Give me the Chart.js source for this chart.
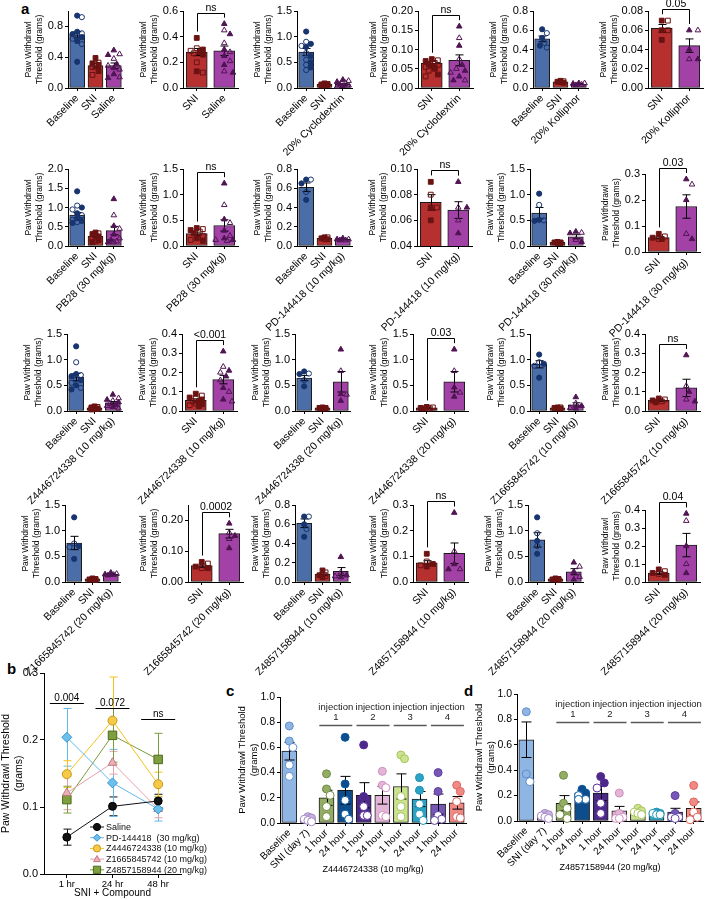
<!DOCTYPE html>
<html>
<head>
<meta charset="utf-8">
<script src="https://cdn.jsdelivr.net/npm/chart.js@4.4.1/dist/chart.umd.min.js"></script>
<style>
  body { margin: 0; background: #fff; }
  #fig { position: relative; width: 708px; height: 900px; overflow: hidden; background: #fff;
         font-family: 'Liberation Sans', Arial, sans-serif; }
  #fig canvas { position: absolute; }
  .tag { position: absolute; font-weight: bold; font-size: 15px; color: #000; line-height: 15px; }
</style>
</head>
<body>
<div id="fig">
  <div class="tag" style="left:21px;top:1px">a</div>
  <div class="tag" style="left:7px;top:661px">b</div>
  <div class="tag" style="left:226px;top:683px">c</div>
  <div class="tag" style="left:464px;top:683px">d</div>
</div>
<script>
// ---- panel a: 24 small bar charts (row by row) ----
const panelLabels = [
  ['Baseline', 'SNI', 'Saline'],
  ['SNI', 'Saline'],
  ['Baseline', 'SNI', '20% Cyclodextrin'],
  ['SNI', '20% Cyclodextrin'],
  ['Baseline', 'SNI', '20% Kolliphor'],
  ['SNI', '20% Kolliphor'],
  ['Baseline', 'SNI', 'PB28 (30 mg/kg)'],
  ['SNI', 'PB28 (30 mg/kg)'],
  ['Baseline', 'SNI', 'PD-144418 (10 mg/kg)'],
  ['SNI', 'PD-144418 (10 mg/kg)'],
  ['Baseline', 'SNI', 'PD-144418 (30 mg/kg)'],
  ['SNI', 'PD-144418 (30 mg/kg)'],
  ['Baseline', 'SNI', 'Z4446724338 (10 mg/kg)'],
  ['SNI', 'Z4446724338 (10 mg/kg)'],
  ['Baseline', 'SNI', 'Z4446724338 (20 mg/kg)'],
  ['SNI', 'Z4446724338 (20 mg/kg)'],
  ['Baseline', 'SNI', 'Z1665845742 (10 mg/kg)'],
  ['SNI', 'Z1665845742 (10 mg/kg)'],
  ['Baseline', 'SNI', 'Z1665845742 (20 mg/kg)'],
  ['SNI', 'Z1665845742 (20 mg/kg)'],
  ['Baseline', 'SNI', 'Z4857158944 (10 mg/kg)'],
  ['SNI', 'Z4857158944 (10 mg/kg)'],
  ['Baseline', 'SNI', 'Z4857158944 (20 mg/kg)'],
  ['SNI', 'Z4857158944 (20 mg/kg)']
];

const panelMeans = [
  [0.69, 0.29, 0.29], [0.28, 0.29], [0.70, 0.07, 0.07], [0.064, 0.072], [0.51, 0.065, 0.042], [0.062, 0.044],
  [0.80, 0.25, 0.40], [0.24, 0.40], [0.61, 0.08, 0.07], [0.074, 0.068], [0.64, 0.07, 0.18], [0.055, 0.175],
  [0.66, 0.06, 0.16], [0.055, 0.163], [0.64, 0.06, 0.57], [0.06, 0.57], [0.91, 0.06, 0.12], [0.055, 0.12],
  [0.76, 0.06, 0.15], [0.053, 0.157], [0.61, 0.08, 0.11], [0.075, 0.112], [0.82, 0.06, 0.20], [0.05, 0.205]
];

const panelSems = [
  [0.04, 0.03, 0.035], [0.028, 0.037], [0.07, 0.008, 0.015], [0.005, 0.014], [0.03, 0.006, 0.005], [0.004, 0.007],
  [0.07, 0.03, 0.11], [0.03, 0.11], [0.045, 0.008, 0.005], [0.006, 0.0065], [0.11, 0.01, 0.04], [0.004, 0.045],
  [0.07, 0.01, 0.025], [0.008, 0.022], [0.05, 0.01, 0.2], [0.01, 0.2], [0.07, 0.01, 0.04], [0.005, 0.045],
  [0.13, 0.01, 0.015], [0.005, 0.014], [0.045, 0.015, 0.04], [0.008, 0.04], [0.14, 0.01, 0.06], [0.007, 0.065]
];

const panelPoints = [
  [[0.94, 0.92, 0.73, 0.71, 0.70, 0.69, 0.66, 0.64, 0.61, 0.57, 0.34], [0.39, 0.33, 0.32, 0.31, 0.30, 0.27, 0.22, 0.17], [0.49, 0.44, 0.43, 0.38, 0.31, 0.29, 0.26, 0.24, 0.18, 0.14, 0.13]],
  [[0.39, 0.31, 0.30, 0.29, 0.28, 0.27, 0.26, 0.20, 0.13, 0.12], [0.50, 0.45, 0.42, 0.35, 0.30, 0.28, 0.25, 0.21, 0.18, 0.13, 0.12]],
  [[1.10, 0.90, 0.86, 0.82, 0.80, 0.68, 0.62, 0.55, 0.50, 0.45, 0.40, 0.35], [0.09, 0.08, 0.07, 0.07, 0.06, 0.06, 0.05, 0.05], [0.16, 0.14, 0.12, 0.10, 0.07, 0.05, 0.04, 0.03]],
  [[0.075, 0.072, 0.07, 0.065, 0.062, 0.06, 0.058, 0.055, 0.05, 0.045, 0.035, 0.03], [0.16, 0.13, 0.11, 0.075, 0.06, 0.05, 0.045, 0.04, 0.03, 0.02, 0.02]],
  [[0.61, 0.57, 0.52, 0.47, 0.44, 0.42], [0.075, 0.07, 0.065, 0.06, 0.055], [0.05, 0.05, 0.045, 0.035, 0.03]],
  [[0.07, 0.07, 0.06, 0.06, 0.05], [0.06, 0.06, 0.04, 0.03, 0.03]],
  [[1.42, 1.05, 1.00, 0.95, 0.85, 0.80, 0.72, 0.68, 0.65, 0.62, 0.60], [0.35, 0.33, 0.31, 0.28, 0.25, 0.20, 0.15, 0.12, 0.10], [1.22, 0.80, 0.52, 0.45, 0.30, 0.20, 0.15, 0.12, 0.10, 0.10]],
  [[0.35, 0.33, 0.31, 0.28, 0.25, 0.20, 0.15, 0.12, 0.10], [1.22, 0.80, 0.52, 0.45, 0.30, 0.20, 0.15, 0.12, 0.12, 0.10]],
  [[0.69, 0.69, 0.65, 0.56, 0.48], [0.09, 0.09, 0.08, 0.07, 0.07], [0.08, 0.07, 0.07, 0.06, 0.06]],
  [[0.09, 0.08, 0.07, 0.07, 0.06], [0.09, 0.07, 0.07, 0.06, 0.05]],
  [[1.02, 0.80, 0.51, 0.50, 0.49], [0.08, 0.07, 0.07, 0.06, 0.06], [0.28, 0.26, 0.25, 0.12, 0.08]],
  [[0.07, 0.06, 0.055, 0.05, 0.05], [0.28, 0.26, 0.20, 0.07, 0.05]],
  [[1.26, 0.95, 0.72, 0.70, 0.68, 0.62, 0.60, 0.55, 0.50, 0.45, 0.42], [0.09, 0.08, 0.07, 0.06, 0.05, 0.05, 0.04, 0.04, 0.03], [0.32, 0.25, 0.22, 0.20, 0.17, 0.14, 0.12, 0.10, 0.08, 0.05]],
  [[0.09, 0.08, 0.07, 0.065, 0.06, 0.05, 0.05, 0.04, 0.035, 0.03, 0.025], [0.31, 0.23, 0.21, 0.20, 0.18, 0.16, 0.12, 0.10, 0.06, 0.05]],
  [[0.77, 0.73, 0.72, 0.60, 0.48], [0.07, 0.06, 0.06, 0.05, 0.05], [1.20, 0.78, 0.33, 0.32, 0.20]],
  [[0.08, 0.07, 0.06, 0.05, 0.05], [1.20, 0.78, 0.46, 0.36, 0.28]],
  [[1.10, 0.95, 0.92, 0.88, 0.65], [0.07, 0.07, 0.06, 0.05, 0.05], [0.27, 0.15, 0.10, 0.06, 0.05]],
  [[0.065, 0.06, 0.055, 0.05, 0.045], [0.29, 0.13, 0.10, 0.06, 0.05]],
  [[1.26, 0.75, 0.70, 0.68, 0.45], [0.07, 0.06, 0.05, 0.05, 0.04], [0.18, 0.16, 0.15, 0.14, 0.13]],
  [[0.065, 0.06, 0.05, 0.045, 0.045], [0.19, 0.16, 0.15, 0.14, 0.11]],
  [[0.68, 0.68, 0.60, 0.55, 0.47], [0.12, 0.10, 0.07, 0.06, 0.05], [0.26, 0.10, 0.07, 0.06, 0.05]],
  [[0.11, 0.08, 0.07, 0.065, 0.06], [0.27, 0.12, 0.07, 0.05, 0.05]],
  [[1.26, 0.95, 0.80, 0.70, 0.55], [0.07, 0.06, 0.05, 0.05, 0.04], [0.38, 0.30, 0.20, 0.10, 0.05]],
  [[0.07, 0.06, 0.05, 0.045, 0.04], [0.38, 0.34, 0.20, 0.10, 0.05]]
];

// y axis ticks per panel
const panelYMin = [0, 0, 0, 0, 0, 0, 0, 0, 0, 0.04, 0, 0, 0, 0, 0, 0, 0, 0, 0, 0, 0, 0, 0, 0];
const panelYMax = [1.0, 0.6, 1.5, 0.20, 0.8, 0.08, 2.0, 1.5, 0.8, 0.10, 1.5, 0.3, 1.5, 0.4, 1.5, 1.5, 1.5, 0.4, 1.5, 0.25, 0.8, 0.3, 1.5, 0.4];
const panelYStep = [0.2, 0.2, 0.5, 0.05, 0.2, 0.02, 0.5, 0.5, 0.2, 0.01, 0.5, 0.1, 0.5, 0.1, 0.5, 0.5, 0.5, 0.1, 0.5, 0.05, 0.2, 0.1, 0.5, 0.1];
const panelSig = [null, 'ns', null, 'ns', null, '0.05', null, 'ns', null, 'ns', null, '0.03',
                  null, '<0.001', null, '0.03', null, 'ns', null, '0.0002', null, 'ns', null, '0.04'];

// ---- panel b ----
const bTimes = ['1 hr', '24 hr', '48 hr'];
const bNames = ['Saline', 'PD-144418  (30 mg/kg)', 'Z4446724338 (10 mg/kg)', 'Z1665845742 (10 mg/kg)', 'Z4857158944 (20 mg/kg)'];
const bSaline = [0.055, 0.101, 0.109];
const bPD144418 = [0.204, 0.136, 0.097];
const bZ4446724338 = [0.149, 0.229, 0.134];
const bZ1665845742 = [0.121, 0.166, 0.097];
const bZ4857158944 = [0.111, 0.207, 0.171];
const bSalineSem = [0.012, 0.014, 0.010];
const bPD144418Sem = [0.043, 0.050, 0.018];
const bZ4446724338Sem = [0.020, 0.065, 0.018];
const bZ1665845742Sem = [0.025, 0.017, 0.013];
const bZ4857158944Sem = [0.020, 0.040, 0.039];
const bYTicks = [0, 0.1, 0.2, 0.3];
const bSig = ['0.004', '0.072', 'ns'];
const bSigLevels = [0.255, 0.248, 0.231];

// ---- panels c and d ----
const repLabels = ['Baseline', 'SNI (day 7)', '1 hour', '24 hour', '1 hour', '24 hour', '1 hour', '24 hour', '1 hour', '24 hour'];
const injectionWord = 'injection';
const injectionNumbers = ['1', '2', '3', '4'];

const cTitle = 'Z4446724338 (10 mg/kg)';
const cMeans = [0.57, 0.03, 0.20, 0.26, 0.22, 0.22, 0.29, 0.19, 0.15, 0.16];
const cSems = [0.07, 0.008, 0.06, 0.11, 0.10, 0.07, 0.10, 0.06, 0.08, 0.05];
const cPoints = [[0.77, 0.65, 0.60, 0.46, 0.37], [0.05, 0.04, 0.03, 0.02, 0.01], [0.39, 0.27, 0.22, 0.13, 0.05],
  [0.68, 0.31, 0.18, 0.07, 0.03], [0.62, 0.21, 0.13, 0.06, 0.06], [0.41, 0.30, 0.28, 0.06, 0.05],
  [0.54, 0.51, 0.21, 0.13, 0.05], [0.36, 0.26, 0.15, 0.07, 0.02], [0.40, 0.25, 0.06, 0.03, 0.02],
  [0.30, 0.25, 0.17, 0.05, 0.04]];

const dTitle = 'Z4857158944 (20 mg/kg)';
const dMeans = [0.64, 0.04, 0.14, 0.22, 0.22, 0.08, 0.07, 0.07, 0.07, 0.10];
const dSems = [0.14, 0.006, 0.06, 0.02, 0.06, 0.035, 0.01, 0.005, 0.03, 0.05];
const dPoints = [[0.86, 0.37, 0.31], [0.06, 0.05, 0.04, 0.03, 0.02], [0.36, 0.14, 0.10, 0.05, 0.02],
  [0.25, 0.22, 0.20, 0.17, 0.17], [0.35, 0.30, 0.26, 0.14, 0.06], [0.22, 0.06, 0.03, 0.02, 0.02],
  [0.10, 0.08, 0.07, 0.06, 0.05], [0.07, 0.06, 0.06, 0.05, 0.05], [0.20, 0.06, 0.03, 0.03, 0.02],
  [0.28, 0.15, 0.07, 0.03, 0.01]];

// ---- layout (pixels) ----
const panelAxisX = [68, 183, 297, 418, 533, 648, 68, 183, 297, 417, 530, 645,
                    67, 182, 295, 413, 530, 645, 65, 188, 295, 413, 528, 645];
const rowTops = [11, 169, 334, 505];
const topShift = { 11: 5, 23: 5 };
const plotHeights = { 11: 78, 23: 72 };

const FONT = "'Liberation Sans', Arial, Helvetica, sans-serif";
Chart.defaults.font.family = FONT;
Chart.defaults.color = '#000';

const fig = document.getElementById('fig');

function addCanvas(left, top, w, h) {
  const c = document.createElement('canvas');
  c.width = w;
  c.height = h;
  c.style.left = left + 'px';
  c.style.top = top + 'px';
  c.style.width = w + 'px';
  c.style.height = h + 'px';
  fig.appendChild(c);
  return c;
}

function decimalsOf(step) {
  return (String(step).split('.')[1] || '').length;
}

// sideways spread of points inside the bar (pixel offsets), overlapping when crowded
function swarm(values, pxPerUnit, r, maxHalf) {
  const cands = [0];
  for (let s = r * 0.9; s <= maxHalf + 0.01; s += r * 0.9) cands.push(s, -s);
  const placed = [];
  const offs = new Array(values.length).fill(0);
  const order = values.map((v, i) => i).sort((a, b) => values[b] - values[a]);
  order.forEach(i => {
    const y = values[i] * pxPerUnit;
    let best = 0, bestD = -1;
    for (const c of cands) {
      const d = placed.length ? Math.min(...placed.map(p => Math.hypot(p.x - c, p.y - y))) : Infinity;
      if (d >= 2 * r - 0.3) { best = c; break; }
      if (d > bestD) { bestD = d; best = c; }
    }
    offs[i] = best;
    placed.push({ x: best, y: y });
  });
  return offs;
}

function groupLook(label) {
  if (label === 'Baseline') return { bar: '#4b6ea8', point: '#17346f', shape: 'circle', r: 2.6 };
  if (label === 'SNI') return { bar: '#b5302f', point: '#6b1212', shape: 'rect', r: 3.4 };
  return { bar: '#a342a6', point: '#4f1553', shape: 'triangle', r: 3.2 };
}

function axisGrid(len) {
  return { display: true, drawOnChartArea: false, drawTicks: true, tickLength: len, color: '#000', lineWidth: 1 };
}

function drawBarErrors(chart, meta, means, sems, cap) {
  const ctx = chart.ctx, ys = chart.scales.y;
  ctx.save();
  ctx.strokeStyle = '#000';
  ctx.lineWidth = 1;
  meta.data.forEach((bar, j) => {
    const x = Math.round(bar.x) + 0.5;
    const y1 = ys.getPixelForValue(means[j] + sems[j]);
    const y0 = ys.getPixelForValue(Math.max(means[j] - sems[j], ys.min));
    ctx.beginPath();
    ctx.moveTo(x, y0); ctx.lineTo(x, y1);
    ctx.moveTo(x - cap, y1); ctx.lineTo(x + cap, y1);
    ctx.moveTo(x - cap, y0); ctx.lineTo(x + cap, y0);
    ctx.stroke();
  });
  ctx.restore();
}

function drawSig(chart, p) {
  const ctx = chart.ctx, xs = chart.scales.x, ys = chart.scales.y;
  const last = p.labels.length - 1;
  const tops = [0, last].map(g =>
    ys.getPixelForValue(Math.max(Math.max(...p.points[g]), p.means[g] + p.sems[g])) - p.radii[g]);
  const lineY = Math.round(Math.min(...tops) - 8) + 0.5;
  const xA = Math.round(xs.getPixelForValue(0)) + 0.5, xB = Math.round(xs.getPixelForValue(last)) + 0.5;
  ctx.save();
  ctx.strokeStyle = '#000';
  ctx.lineWidth = 1;
  ctx.beginPath();
  ctx.moveTo(xA, tops[0] - 3); ctx.lineTo(xA, lineY); ctx.lineTo(xB, lineY); ctx.lineTo(xB, tops[1] - 3);
  ctx.stroke();
  ctx.fillStyle = '#000';
  ctx.font = '10.5px ' + FONT;
  ctx.textAlign = 'center';
  ctx.textBaseline = 'alphabetic';
  ctx.fillText(p.sig, (xA + xB) / 2, lineY - 3);
  ctx.restore();
}

function barPanel(p) {
  const n = p.labels.length;
  const W = p.padL + p.yW + p.plotW + p.padR;
  const H = p.padT + p.plotH + p.xH + 4;
  const canvas = addCanvas(p.axisX - p.padL - p.yW, p.top - p.padT, W, H);
  const catPx = p.plotW / n;
  const barPx = Math.round(catPx * p.barPct);
  const pxPerUnit = p.plotH / (p.yMax - p.yMin);
  const dec = decimalsOf(p.step);
  const datasets = [];
  p.points.forEach((vals, g) => {
    const maxHalf = barPx / 2 - p.radii[g] * 0.5;
    const offs = swarm(vals, pxPerUnit, p.radii[g], maxHalf);
    datasets.push({
      type: 'scatter', xAxisID: 'xp', yAxisID: 'y', order: 0, clip: false,
      data: vals.map((v, k) => ({ x: g + offs[k] / catPx, y: v })),
      pointStyle: p.shapes[g], pointRadius: p.radii[g], pointHoverRadius: p.radii[g],
      pointBorderWidth: 1, pointBorderColor: p.pointEdge[g],
      pointBackgroundColor: vals.map((v, k) => p.isOpen(k) ? p.openFill : p.pointFill[g])
    });
  });
  datasets.push({
    type: 'bar', xAxisID: 'x', yAxisID: 'y', order: 1, data: p.means,
    backgroundColor: p.barColors, borderColor: '#1b1b1b', borderWidth: 1, borderSkipped: false,
    barThickness: barPx, grouped: false
  });
  return new Chart(canvas, {
    type: 'bar',
    data: { labels: p.labels, datasets: datasets },
    options: {
      responsive: false, animation: false, devicePixelRatio: 1, events: [],
      layout: { padding: { left: p.padL, right: p.padR, top: p.padT, bottom: 4 }, autoPadding: false },
      plugins: { legend: { display: false }, tooltip: { enabled: false } },
      scales: {
        x: {
          type: 'category', offset: true,
          grid: Object.assign(axisGrid(3), { offset: false }),
          border: { display: true, color: '#000', width: 1 },
          ticks: { autoSkip: false, minRotation: 45, maxRotation: 45, padding: 1, font: { size: p.labelSize } },
          title: { display: !!p.xTitle, text: p.xTitle || '', font: { size: 9 }, padding: 0 },
          afterFit: s => { s.height = p.xH; }
        },
        xp: { type: 'linear', display: false, offset: false, min: -0.5, max: n - 0.5 },
        y: {
          type: 'linear', min: p.yMin, max: p.yMax,
          grid: axisGrid(3),
          border: { display: true, color: '#000', width: 1 },
          ticks: { stepSize: p.step, padding: 2, font: { size: p.tickSize }, callback: v => Number(v).toFixed(dec) },
          title: { display: true, text: p.yTitle, font: { size: p.titleSize }, padding: 0 },
          afterFit: s => { s.width = p.yW; }
        }
      }
    },
    plugins: [{
      id: 'prismExtras',
      afterDatasetDraw(chart, args) {
        if (args.meta.type === 'bar') drawBarErrors(chart, args.meta, p.means, p.sems, p.capHalf);
      },
      afterDraw(chart) {
        if (p.sig) drawSig(chart, p);
        if (p.extra) p.extra(chart);
      }
    }]
  });
}

// panel a
panelLabels.forEach((labels, i) => {
  const looks = labels.map(groupLook);
  const dec = decimalsOf(panelYStep[i]);
  barPanel({
    axisX: panelAxisX[i],
    top: rowTops[Math.floor(i / 6)] + (topShift[i] || 0),
    plotW: 55, plotH: plotHeights[i] || 77,
    padL: 42, padR: 8, padT: 34, yW: dec === 1 ? 44 : 49, xH: 100,
    labels: labels, means: panelMeans[i], sems: panelSems[i], points: panelPoints[i],
    yMin: panelYMin[i], yMax: panelYMax[i], step: panelYStep[i],
    yTitle: ['Paw Withdrawl', 'Threshold (grams)'], titleSize: 8.5, tickSize: 11, labelSize: 10.5,
    barColors: looks.map(l => l.bar), pointFill: looks.map(l => l.point), pointEdge: looks.map(l => l.point),
    shapes: looks.map(l => l.shape), radii: looks.map(l => l.r),
    capHalf: 4, barPct: labels.length === 3 ? 0.8 : 0.75,
    isOpen: k => k % 2 === 1, openFill: 'rgba(0,0,0,0)',
    sig: panelSig[i]
  });
});

// panels c, d
const repBarColors = ['#8fb5e3', '#c7b3de', '#94ad65', '#0e4d8c', '#4a2a86', '#e3b6d8', '#cbe38f', '#2ba3c5', '#7757b5', '#ef8a85'];
const repPointEdge = ['#5d8fcf', '#a487c6', '#6f8a43', '#0a5aa5', '#5a2a9a', '#cf8fbd', '#a9c45c', '#1d93b6', '#5d3fa3', '#e06560'];

function drawInjections(chart) {
  const ctx = chart.ctx, xs = chart.scales.x, top = chart.chartArea.top;
  ctx.save();
  ctx.fillStyle = '#222';
  ctx.strokeStyle = '#5a5a5a';
  ctx.lineWidth = 1.6;
  ctx.font = '9.5px ' + FONT;
  ctx.textAlign = 'center';
  ctx.textBaseline = 'middle';
  injectionNumbers.forEach((num, k) => {
    const mid = (xs.getPixelForValue(2 + 2 * k) + xs.getPixelForValue(3 + 2 * k)) / 2;
    ctx.fillText(injectionWord, mid, top + 10.5);
    ctx.fillText(num, mid, top + 20);
    ctx.beginPath();
    ctx.moveTo(mid - 16.5, top + 28.5);
    ctx.lineTo(mid + 16.5, top + 28.5);
    ctx.stroke();
  });
  ctx.restore();
}

[[280, 697, 126, cTitle, cMeans, cSems, cPoints], [517, 694, 127, dTitle, dMeans, dSems, dPoints]].forEach(cfg => {
  barPanel({
    axisX: cfg[0], top: cfg[1], plotW: 186, plotH: cfg[2],
    padL: 20, padR: 4, padT: 12, yW: 43, xH: 52,
    labels: repLabels, means: cfg[4], sems: cfg[5], points: cfg[6],
    yMin: 0, yMax: 1.0, step: 0.2,
    yTitle: ['Paw Withdrawl Threshold', '(grams)'], titleSize: 9.5, tickSize: 10.5, labelSize: 10,
    xTitle: cfg[3],
    barColors: repBarColors, pointFill: repBarColors, pointEdge: repPointEdge,
    shapes: repLabels.map(() => 'circle'), radii: repLabels.map(() => 4),
    capHalf: 5, barPct: 0.8,
    isOpen: k => k >= 2, openFill: '#ffffff',
    sig: null, extra: drawInjections
  });
});

// panel b
const bSeries = [bSaline, bPD144418, bZ4446724338, bZ1665845742, bZ4857158944];
const bSems = [bSalineSem, bPD144418Sem, bZ4446724338Sem, bZ1665845742Sem, bZ4857158944Sem];
const bLine = ['#111111', '#63b8e8', '#f5c21b', '#e6a1ab', '#7b9b3c'];
const bFill = ['#111111', '#6cc0ec', '#f7c948', '#ebb0b8', '#7f9f3f'];
const bEdge = ['#000000', '#3a93cf', '#c8961a', '#c27784', '#4c6a20'];
const bShapes = ['circle', 'rectRot', 'circle', 'triangle', 'rect'];
const bRadius = [4, 5, 4.5, 5, 6];

function marker(ctx, shape, x, y, r, fill, edge) {
  ctx.save();
  ctx.fillStyle = fill;
  ctx.strokeStyle = edge;
  ctx.lineWidth = 1;
  ctx.beginPath();
  if (shape === 'circle') ctx.arc(x, y, r, 0, Math.PI * 2);
  else if (shape === 'rect') ctx.rect(x - r, y - r, 2 * r, 2 * r);
  else if (shape === 'rectRot') { ctx.moveTo(x, y - r); ctx.lineTo(x + r, y); ctx.lineTo(x, y + r); ctx.lineTo(x - r, y); ctx.closePath(); }
  else { ctx.moveTo(x, y - r); ctx.lineTo(x + r * 0.95, y + r * 0.7); ctx.lineTo(x - r * 0.95, y + r * 0.7); ctx.closePath(); }
  ctx.fill();
  ctx.stroke();
  ctx.restore();
}

const bCanvas = addCanvas(44 - 10 - 44, 673 - 14, 10 + 44 + 137 + 40, 14 + 201 + 25 + 4);
new Chart(bCanvas, {
  type: 'line',
  data: {
    labels: bTimes,
    datasets: bNames.map((name, k) => ({
      label: name, data: bSeries[k],
      borderColor: bLine[k], backgroundColor: bFill[k], borderWidth: 1, tension: 0,
      pointStyle: bShapes[k], pointRadius: bRadius[k], pointHoverRadius: bRadius[k],
      pointBackgroundColor: bFill[k], pointBorderColor: bEdge[k], pointBorderWidth: 1, clip: false
    }))
  },
  options: {
    responsive: false, animation: false, devicePixelRatio: 1, events: [],
    layout: { padding: { left: 10, right: 40, top: 14, bottom: 4 }, autoPadding: false },
    plugins: { legend: { display: false }, tooltip: { enabled: false } },
    scales: {
      x: {
        type: 'category', offset: true,
        grid: Object.assign(axisGrid(4), { offset: false }),
        border: { display: true, color: '#000', width: 1 },
        ticks: { autoSkip: false, maxRotation: 0, padding: 1, font: { size: 9.5 } },
        title: { display: true, text: 'SNI + Compound', font: { size: 10 }, padding: 0 },
        afterFit: s => { s.height = 25; }
      },
      y: {
        type: 'linear', min: bYTicks[0], max: bYTicks[bYTicks.length - 1],
        grid: axisGrid(4),
        border: { display: true, color: '#000', width: 1 },
        ticks: { padding: 2, autoSkip: false, font: { size: 11 }, callback: v => Number(v).toFixed(1) },
        afterBuildTicks: s => { s.ticks = bYTicks.map(v => ({ value: v })); },
        title: { display: true, text: ['Paw Withdrawl Threshold', '(grams)'], font: { size: 10.5 }, padding: 0 },
        afterFit: s => { s.width = 44; }
      }
    }
  },
  plugins: [{
    id: 'timeExtras',
    beforeDatasetsDraw(chart) {
      const ctx = chart.ctx, ys = chart.scales.y;
      ctx.save();
      ctx.lineWidth = 1;
      chart.data.datasets.forEach((ds, k) => {
        const meta = chart.getDatasetMeta(k);
        ctx.strokeStyle = bLine[k];
        meta.data.forEach((pt, j) => {
          const x = Math.round(pt.x) + 0.5;
          const y1 = ys.getPixelForValue(bSeries[k][j] + bSems[k][j]);
          const y0 = ys.getPixelForValue(bSeries[k][j] - bSems[k][j]);
          ctx.beginPath();
          ctx.moveTo(x, y0); ctx.lineTo(x, y1);
          ctx.moveTo(x - 4, y1); ctx.lineTo(x + 4, y1);
          ctx.moveTo(x - 4, y0); ctx.lineTo(x + 4, y0);
          ctx.stroke();
        });
      });
      ctx.restore();
    },
    afterDraw(chart) {
      const ctx = chart.ctx, xs = chart.scales.x, ys = chart.scales.y, area = chart.chartArea;
      ctx.save();
      // significance lines
      ctx.strokeStyle = '#000';
      ctx.fillStyle = '#000';
      ctx.lineWidth = 1;
      ctx.font = '10px ' + FONT;
      ctx.textAlign = 'center';
      bSig.forEach((txt, j) => {
        const x = xs.getPixelForValue(j);
        const y = Math.round(ys.getPixelForValue(bSigLevels[j])) + 0.5;
        ctx.beginPath();
        ctx.moveTo(x - 17, y); ctx.lineTo(x + 17, y);
        ctx.stroke();
        ctx.fillText(txt, x, y - 3);
      });
      // legend
      ctx.font = '9px ' + FONT;
      ctx.textAlign = 'left';
      ctx.textBaseline = 'middle';
      bNames.forEach((name, k) => {
        const y = area.bottom - 47 + k * 10.7;
        const x0 = area.left + 46;
        ctx.strokeStyle = bLine[k];
        ctx.beginPath();
        ctx.moveTo(x0, y); ctx.lineTo(x0 + 14, y);
        ctx.stroke();
        marker(ctx, bShapes[k], x0 + 7, y, 3.6, bFill[k], bEdge[k]);
        ctx.fillStyle = '#111';
        ctx.fillText(name, x0 + 16, y + 0.5);
      });
      ctx.restore();
    }
  }]
});
</script>
</body>
</html>
